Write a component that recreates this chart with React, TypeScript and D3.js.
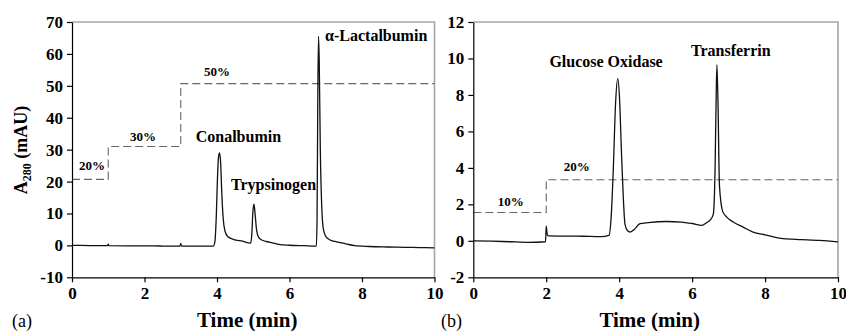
import React, { useEffect, useRef } from 'react';
import * as d3 from 'd3';

// Panel (a): chromatogram, time (min) vs A280 (mAU)
const timeA = [0, 0.5, 0.98, 1.0, 1.02, 1.5, 2, 2.5, 2.98, 3.0, 3.02, 3.5, 3.9, 3.94, 3.98, 4.01, 4.04, 4.07, 4.1, 4.13, 4.17, 4.22, 4.3, 4.45, 4.7, 4.93, 4.96, 4.99, 5.02, 5.05, 5.09, 5.15, 5.25, 5.45, 5.7, 6.0, 6.4, 6.74, 6.76, 6.78, 6.8, 6.82, 6.85, 6.89, 6.93, 7.0, 7.12, 7.3, 7.55, 7.8, 8.2, 8.7, 9.2, 9.6, 10];
const absA = [0, -0.05, -0.1, 0.4, -0.1, -0.15, -0.15, -0.2, -0.2, 0.6, -0.2, -0.2, -0.2, 1.0, 9, 20, 27.5, 29, 26, 17, 8.5, 4.5, 2.7, 1.9, 1.3, 0.7, 3.5, 10.5, 12.9, 10, 5, 2.5, 1.6, 1.0, 0.35, 0.05, -0.1, -0.2, 8, 45, 65.5, 58, 30, 12, 5.4, 2.8, 1.7, 1.1, 0.5, -0.1, -0.35, -0.5, -0.6, -0.7, -0.75];

// Panel (a): gradient steps
const stepTimeA = [0, 1, 3, 10];
const stepLevelA = [20.7, 31.0, 50.7, 50.7];

// Panel (b): chromatogram
const timeB = [0, 0.5, 1.0, 1.5, 1.98, 2.0, 2.02, 2.05, 2.5, 3.0, 3.5, 3.72, 3.78, 3.84, 3.9, 3.96, 4.01, 4.06, 4.11, 4.16, 4.23, 4.3, 4.4, 4.57, 4.8, 5.3, 5.7, 6.0, 6.27, 6.4, 6.5, 6.58, 6.63, 6.66, 6.68, 6.71, 6.75, 6.84, 6.95, 7.13, 7.4, 7.67, 8.0, 8.5, 9.0, 9.5, 10];
const absB = [0, -0.02, -0.05, -0.08, -0.05, 0.8, 0.45, 0.27, 0.26, 0.25, 0.23, 0.3, 1.3, 4.0, 7.5, 8.9, 7.8, 5.0, 2.5, 0.9, 0.55, 0.48, 0.6, 0.94, 1.0, 1.06, 1.03, 0.95, 0.85, 1.0, 1.15, 1.45, 4.0, 8.0, 9.65, 7.5, 3.0, 1.6, 1.3, 1.03, 0.75, 0.48, 0.33, 0.12, 0.07, 0.02, -0.06];

// Panel (b): gradient steps
const stepTimeB = [0, 2, 10];
const stepLevelB = [1.55, 3.35, 3.35];

const ticksX = [0, 2, 4, 6, 8, 10];
const ticksYA = [-10, 0, 10, 20, 30, 40, 50, 60, 70];
const ticksYB = [-2, 0, 2, 4, 6, 8, 10, 12];

// annotations: text, time, value, anchor, size
const notesA = [
  { text: 'α-Lactalbumin', t: 6.98, v: 64.1, anchor: 'start', big: true },
  { text: 'Conalbumin', t: 4.59, v: 32.5, anchor: 'middle', big: true },
  { text: 'Trypsinogen', t: 5.56, v: 17.4, anchor: 'middle', big: true },
  { text: '50%', t: 4.0, v: 53.1, anchor: 'middle', big: false },
  { text: '30%', t: 1.96, v: 32.7, anchor: 'middle', big: false },
  { text: '20%', t: 0.55, v: 23.6, anchor: 'middle', big: false },
];
const notesB = [
  { text: 'Glucose Oxidase', t: 3.64, v: 9.53, anchor: 'middle', big: true },
  { text: 'Transferrin', t: 7.06, v: 10.12, anchor: 'middle', big: true },
  { text: '10%', t: 1.03, v: 1.89, anchor: 'middle', big: false },
  { text: '20%', t: 2.84, v: 3.83, anchor: 'middle', big: false },
];

const FONT = '"Liberation Serif", "Times New Roman", serif';

const App = () => {
  const svgRef = useRef<SVGSVGElement>(null);

  useEffect(() => {
    const svg = d3.select(svgRef.current);
    svg.selectAll('*').remove();

    const top = 22;
    const bottom = 277.3;

    const drawPanel = (p: any) => {
      const x = d3.scaleLinear().domain([0, 10]).range([p.left, p.right]);
      const y = d3.scaleLinear().domain(p.yDomain).range([bottom, top]);
      const g = svg.append('g');

      // gray frame on top/right
      g.append('path')
        .attr('d', `M${p.left},${top}H${p.right}V${bottom}`)
        .attr('fill', 'none')
        .attr('stroke', '#a6a6a6')
        .attr('stroke-width', 1.6);

      // gradient steps
      const step = d3.line<number>()
        .x((_, i) => x(p.stepTime[i]))
        .y(d => y(d))
        .curve(d3.curveStepAfter);
      g.append('path')
        .attr('d', step(p.stepLevel))
        .attr('fill', 'none')
        .attr('stroke', '#666')
        .attr('stroke-width', 1.1)
        .attr('stroke-dasharray', '8,4');

      // chromatogram trace
      const trace = d3.line<number>()
        .x((_, i) => x(p.time[i]))
        .y(d => y(d))
        .curve(d3.curveMonotoneX);
      g.append('path')
        .attr('d', trace(p.abs))
        .attr('fill', 'none')
        .attr('stroke', '#111')
        .attr('stroke-width', 1.3);

      // axes
      const ax = g.append('g')
        .attr('transform', `translate(0,${bottom})`)
        .call(d3.axisBottom(x).tickValues(ticksX).tickSize(5).tickSizeOuter(0).tickPadding(5).tickFormat(d => String(d)));
      const ay = g.append('g')
        .attr('transform', `translate(${p.left},0)`)
        .call(d3.axisLeft(y).tickValues(p.ticksY).tickSize(5).tickSizeOuter(0).tickPadding(4).tickFormat(d => String(d)));
      [ax, ay].forEach(a => {
        a.select('.domain').attr('stroke', '#000').attr('stroke-width', 1.2);
        a.selectAll('line').attr('stroke', '#000').attr('stroke-width', 1.2);
        a.selectAll('text')
          .attr('fill', '#000')
          .style('font-family', FONT)
          .style('font-weight', 'bold')
          .style('font-size', '17px');
      });

      // annotations
      g.selectAll('.note')
        .data(p.notes)
        .enter()
        .append('text')
        .attr('x', (d: any) => x(d.t))
        .attr('y', (d: any) => y(d.v))
        .attr('text-anchor', (d: any) => d.anchor)
        .style('font-family', FONT)
        .style('font-weight', 'bold')
        .style('font-size', (d: any) => (d.big ? '16px' : '13px'))
        .text((d: any) => d.text);

      // x title
      g.append('text')
        .attr('x', (p.left + p.right) / 2 - 6)
        .attr('y', 327)
        .attr('text-anchor', 'middle')
        .style('font-family', FONT)
        .style('font-weight', 'bold')
        .style('font-size', '21px')
        .text('Time (min)');

      // panel tag
      g.append('text')
        .attr('x', p.tagX)
        .attr('y', 327)
        .style('font-family', FONT)
        .style('font-size', '18px')
        .text(p.tag);
    };

    drawPanel({
      left: 72, right: 434.5, yDomain: [-10, 70], ticksY: ticksYA,
      time: timeA, abs: absA, stepTime: stepTimeA, stepLevel: stepLevelA,
      notes: notesA, tag: '(a)', tagX: 12,
    });
    drawPanel({
      left: 473.3, right: 838, yDomain: [-2, 12], ticksY: ticksYB,
      time: timeB, abs: absB, stepTime: stepTimeB, stepLevel: stepLevelB,
      notes: notesB, tag: '(b)', tagX: 441,
    });

    // y title for panel (a)
    const yt = svg.append('text')
      .attr('transform', 'translate(27,150) rotate(-90)')
      .attr('text-anchor', 'middle')
      .style('font-family', FONT)
      .style('font-weight', 'bold')
      .style('font-size', '18px');
    yt.append('tspan').text('A');
    yt.append('tspan').attr('dy', 4).style('font-size', '12px').text('280');
    yt.append('tspan').attr('dy', -4).text(' (mAU)');
  }, []);

  return (
    <svg
      ref={svgRef}
      width={846}
      height={331}
      style={{ position: 'absolute', left: 0, top: 0, background: '#fff' }}
    />
  );
};

export default App;
